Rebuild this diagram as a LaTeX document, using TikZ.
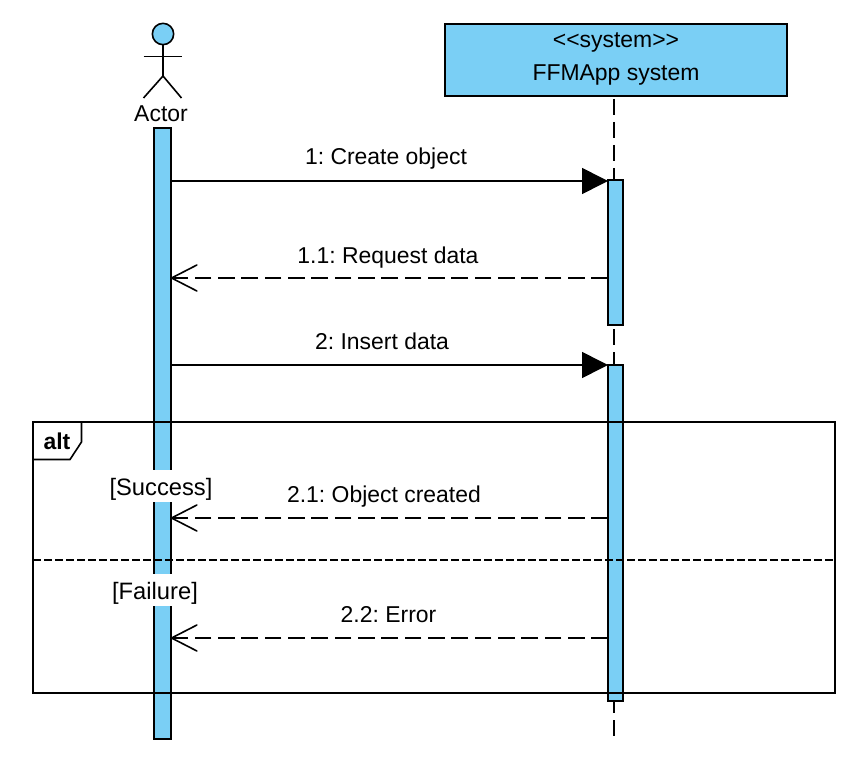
\documentclass[tikz,border=0pt]{standalone}
\usepackage{fontspec}
\setmainfont{Liberation Sans}
\usetikzlibrary{arrows.meta}
\definecolor{lifefill}{HTML}{7ACFF5}
\AtBeginDocument{\frenchspacing}

\begin{document}
\begin{tikzpicture}[
  x=0.75pt, y=-0.75pt,
  line join=miter,
  every node/.style={font=\fontsize{17.2pt}{20pt}\selectfont, inner sep=0pt, outer sep=0pt},
  line/.style={line width=1.2pt, draw=black},
  bar/.style={line, fill=lifefill, minimum width=12.4pt},
  sysbar/.style={line, fill=lifefill, minimum width=11.25pt},
  lifeline/.style={line, dash pattern=on 12pt off 5.25pt, dash phase=15pt},
  call/.style={line, -{Triangle[length=19.5pt,width=19.5pt]}},
  reply/.style={line, dash pattern=on 12.5pt off 5pt, -{Straight Barb[length=19pt,width=19.5pt,line width=1.2pt,round=false]}},
  guard/.style={fill=white, text height=18.75pt, text depth=5.25pt, font=\fontsize{17.8pt}{20pt}\selectfont},
]
\useasboundingbox (0,0) rectangle (867,770);
% lifeline of the system
\node[line, fill=lifefill, minimum width=256.5pt, minimum height=54pt, align=center] (system) at (616,60) {{<}{<}system{>}{>}\\[4.4pt]FFMApp system\rule[-5.1pt]{0pt}{5.1pt}};
\coordinate (sysstart) at (614,96);
\coordinate (sysstop) at (614,737);
\draw[lifeline] (sysstart) -- (sysstop);
% actor
\node[line, fill=lifefill, circle, minimum size=16pt] (head) at (163,34) {};
\coordinate (hip) at (163,76);
\coordinate (armL) at (143.5,56.5);
\coordinate (armR) at (181.5,56.5);
\coordinate (footL) at (143.5,98);
\coordinate (footR) at (181.5,98);
\draw[line] (head) -- (hip);
\draw[line] (armL) -- (armR);
\draw[line] (footL) -- (hip) -- (footR);
\node (actor) at (161,113.5) {Actor};
% activation bars
\node[bar, minimum height=458.25pt] (actorbar) at (162.5,433.5) {};
\node[sysbar, minimum height=108.75pt] (sysbarA) at (615.5,252.5) {};
\node[sysbar, minimum height=252pt] (sysbarB) at (615.5,533) {};
% messages
\draw[call] (actorbar.east |- 0,181) -- (sysbarA.west |- 0,181);
\draw[reply] (sysbarA.west |- 0,278) -- (actorbar.east |- 0,278);
\draw[call] (actorbar.east |- 0,365) -- (sysbarB.west |- 0,365);
\draw[reply] (sysbarB.west |- 0,518) -- (actorbar.east |- 0,518);
\draw[reply] (sysbarB.west |- 0,638) -- (actorbar.east |- 0,638);
\node (create) at (386,158.5) {1: Create object};
\node (request) at (388,257.5) {1.1: Request data};
\node (insert) at (382,341) {2: Insert data};
\node (created) at (384,497) {2.1: Object created};
\node (error) at (388.5,615) {2.2: Error};
% alt frame
\node[line, minimum width=601.5pt, minimum height=203.25pt] (altframe) at (434,557.5) {};
\coordinate (tabA) at (81.5,422);
\coordinate (tabB) at (81.5,442);
\coordinate (tabC) at (70,459.5);
\coordinate (tabD) at (33,459.5);
\draw[line, fill=white] (tabA) -- (tabB) -- (tabC) -- (tabD) -- (altframe.north west) -- cycle;
\node[font=\fontsize{17.2pt}{20pt}\selectfont\bfseries] (alt) at (57,441) {alt};
\coordinate (splitL) at (33,560);
\coordinate (splitR) at (835,560);
\draw[line, dash pattern=on 6pt off 2.25pt] (splitL) -- (splitR);
\node[guard] (success) at (161,486) {[Success]};
\node[guard] (failure) at (155,590) {[Failure]};
\end{tikzpicture}
\end{document}
